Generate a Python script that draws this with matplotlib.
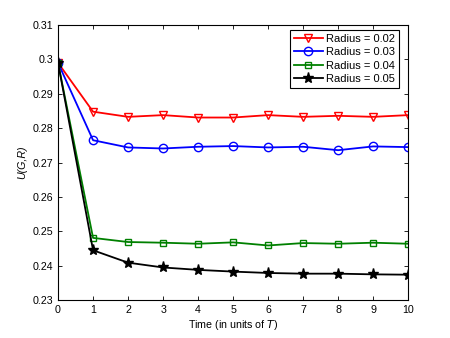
import matplotlib
matplotlib.use("Agg")
import matplotlib.pyplot as plt

t = list(range(11))
r002 = [0.2990, 0.2848, 0.2833, 0.2838, 0.2831, 0.2831, 0.2838, 0.2833, 0.2836, 0.2833, 0.2838]
r003 = [0.2990, 0.2765, 0.2744, 0.2741, 0.2746, 0.2748, 0.2744, 0.2746, 0.2736, 0.2747, 0.2745]
r004 = [0.2990, 0.2481, 0.2469, 0.2467, 0.2464, 0.2468, 0.2459, 0.2466, 0.2464, 0.2467, 0.2464]
r005 = [0.2990, 0.2445, 0.2409, 0.2395, 0.2388, 0.2383, 0.2379, 0.2377, 0.2377, 0.2375, 0.2374]
labels = ["Radius = 0.02", "Radius = 0.03", "Radius = 0.04", "Radius = 0.05"]
xticks = list(range(11))
yticks = [0.23, 0.24, 0.25, 0.26, 0.27, 0.28, 0.29, 0.3, 0.31]
yticklabels = ["0.23", "0.24", "0.25", "0.26", "0.27", "0.28", "0.29", "0.3", "0.31"]

plt.rcParams['font.family'] = ['Liberation Sans', 'DejaVu Sans']
fig = plt.figure(figsize=(4.5, 3.38), dpi=100)
ax = fig.add_axes([0.129, 0.112, 0.778, 0.814])

ax.plot(t, r002, color='red', lw=1.3, marker='v', ms=6, mfc='none', mec='red', mew=1.0, label=labels[0])
ax.plot(t, r003, color='blue', lw=1.3, marker='o', ms=6, mfc='none', mec='blue', mew=1.0, label=labels[1])
ax.plot(t, r004, color='green', lw=1.3, marker='s', ms=5, mfc='none', mec='green', mew=1.0, label=labels[2])
ax.plot(t, r005, color='black', lw=1.3, marker='*', ms=8, mfc='black', mec='black', label=labels[3])

ax.set_xlim(0, 10)
ax.set_ylim(0.23, 0.31)
ax.set_xticks(xticks)
ax.set_yticks(yticks)
ax.set_yticklabels(yticklabels)
ax.tick_params(direction='in', top=True, right=True, labelsize=7.7, length=3, width=0.6)
for s in ax.spines.values():
    s.set_linewidth(0.8)

ax.set_xlabel(r"Time (in units of $\it{T}$)", fontsize=7.7, labelpad=2)
ax.set_ylabel("U(G,R)", fontsize=7.7, fontstyle='italic', labelpad=4)

leg = ax.legend(loc='upper right', bbox_to_anchor=(0.974, 0.982), fontsize=8, frameon=True,
                fancybox=False, edgecolor='black', framealpha=1, borderpad=0.35,
                labelspacing=0.3, handlelength=2.6, handletextpad=0.3, borderaxespad=0)
leg.get_frame().set_linewidth(0.8)

fig.savefig("out.png", dpi=100)
